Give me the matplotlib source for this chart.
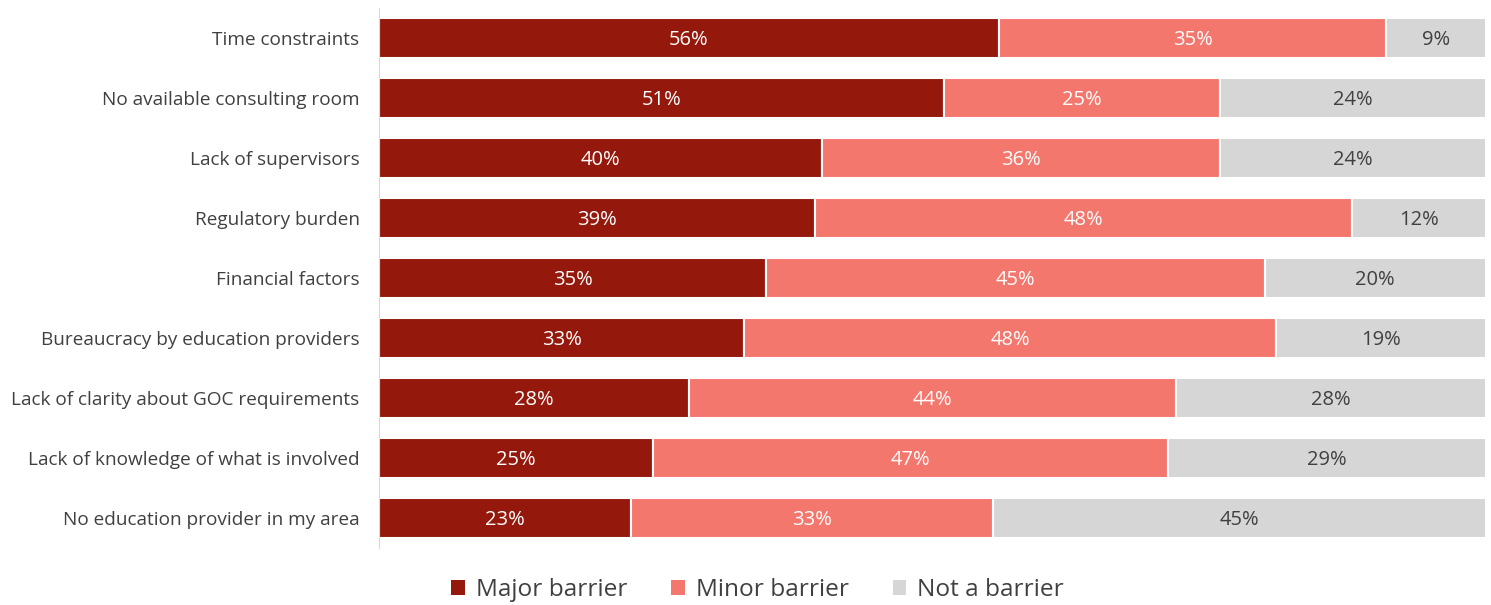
import matplotlib
matplotlib.use('Agg')

import numpy as np
import matplotlib.pyplot as plt
from matplotlib.patches import Patch

# data, top row first
categories = [
    'Time constraints',
    'No available consulting room',
    'Lack of supervisors',
    'Regulatory burden',
    'Financial factors',
    'Bureaucracy by education providers',
    'Lack of clarity about GOC requirements',
    'Lack of knowledge of what is involved',
    'No education provider in my area',
]
major = [56, 51, 40, 39, 35, 33, 28, 25, 23]
minor = [35, 25, 36, 48, 45, 48, 44, 47, 33]
not_barrier = [9, 24, 24, 12, 20, 19, 28, 29, 45]
series_names = ['Major barrier', 'Minor barrier', 'Not a barrier']

colors = ['#94180C', '#F4776E', '#D6D6D6']
text_colors = ['white', 'white', '#404040']

plt.rcParams['font.family'] = ['Open Sans', 'DejaVu Sans']

fig = plt.figure(figsize=(14.91, 6.05), dpi=100)
ax = fig.add_axes([379 / 1491, 1 - 548 / 605, (1486 - 379) / 1491, 540 / 605])

vals = np.array([major, minor, not_barrier], dtype=float)
# 100% stacked: each row scaled to its own total
shares = vals / vals.sum(axis=0)
y = np.arange(len(categories))

left = np.zeros(len(categories))
for k in range(3):
    bars = ax.barh(y, shares[k], left=left, height=0.67, color=colors[k],
                   edgecolor='white', linewidth=1.5)
    for i, b in enumerate(bars):
        ax.text(left[i] + shares[k][i] / 2, y[i] + 0.03, '%d%%' % vals[k][i],
                ha='center', va='center', color=text_colors[k], fontsize=14.5)
    left += shares[k]

ax.set_xlim(0, 1)
ax.set_ylim(len(categories) - 0.5, -0.5)
ax.set_yticks(y)
ax.set_yticklabels(categories, fontsize=13.7, color='#404040')
ax.set_xticks([])
ax.tick_params(axis='y', length=0, pad=14)
for s in ['top', 'right', 'bottom']:
    ax.spines[s].set_visible(False)
ax.spines['left'].set_color('#D9D9D9')

handles = [Patch(facecolor=c, edgecolor='none') for c in colors]
leg = fig.legend(handles, series_names, loc='center', bbox_to_anchor=(0.508, 0.024),
                 ncol=3, frameon=False, fontsize=17.6, handlelength=0.55, handleheight=0.55,
                 columnspacing=1.8, handletextpad=0.45)
for t in leg.get_texts():
    t.set_color('#404040')

fig.savefig('out.png', dpi=100)
